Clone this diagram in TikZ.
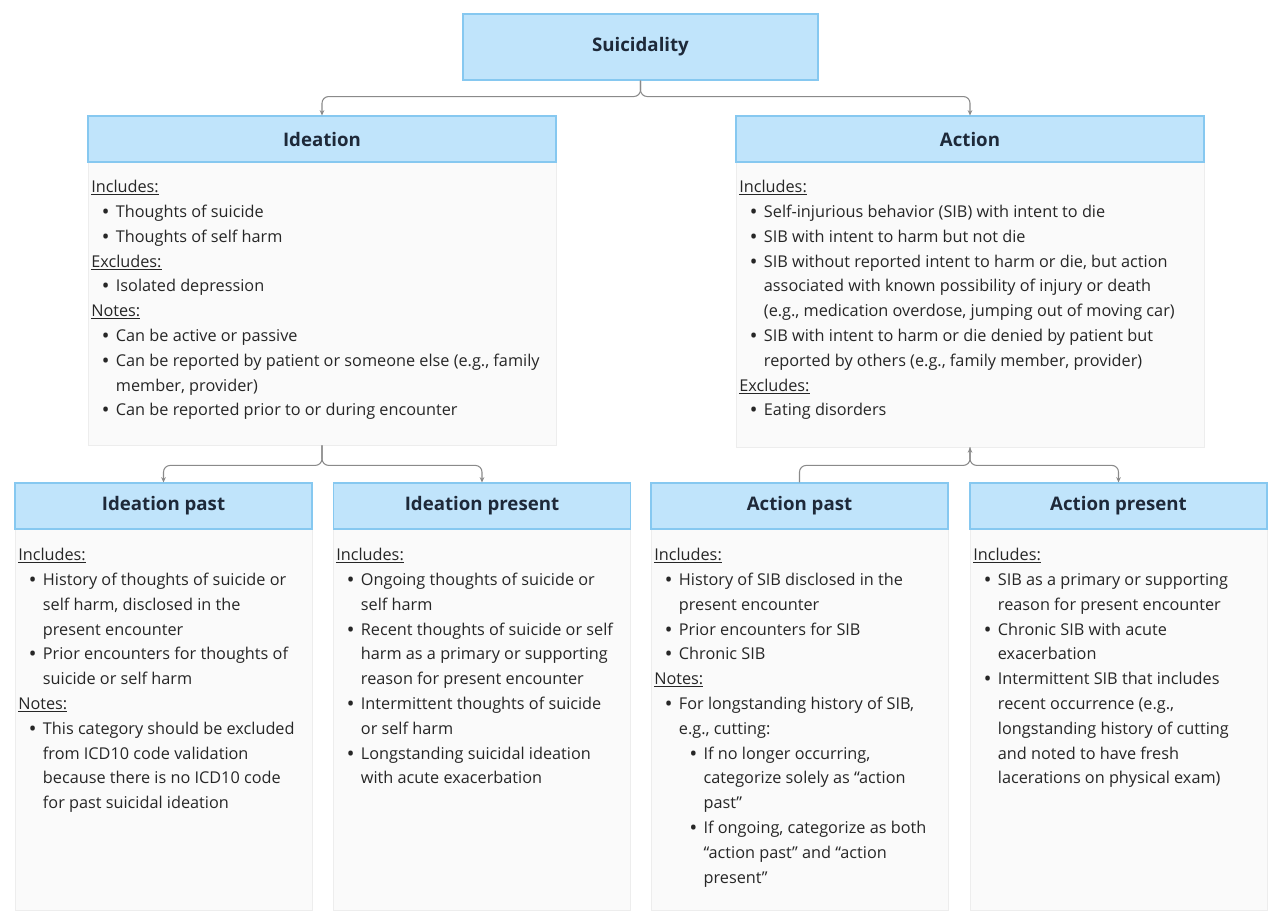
\documentclass[tikz,border=0pt]{standalone}
\usepackage{fontspec}
\setmainfont{Open Sans}
\usetikzlibrary{arrows.meta,positioning}
\definecolor{hdfill}{HTML}{C0E4FB}
\definecolor{hddraw}{HTML}{86C8F0}
\definecolor{pnfill}{HTML}{FAFAFA}
\definecolor{pndraw}{HTML}{EDEDED}
\definecolor{hdtext}{HTML}{1E2939}
\definecolor{bdtext}{HTML}{262626}
\definecolor{conncol}{HTML}{8A8A8A}
% one line of a panel: heading, bullet, wrapped line, sub bullet, wrapped sub line
\newcommand{\hdl}[1]{\underline{#1}\\}
\newcommand{\bul}[1]{\hspace*{8.5pt}\makebox[10pt][l]{\textbf{•}}#1\\}
\newcommand{\cnt}[1]{\hspace*{18.5pt}#1\\}
\newcommand{\sbul}[1]{\hspace*{27pt}\makebox[10pt][l]{\textbf{•}}#1\\}
\newcommand{\scnt}[1]{\hspace*{37pt}#1\\}
\tikzset{
  header/.style={draw=hddraw, fill=hdfill, line width=0.8pt, text=hdtext,
    font=\fontsize{14}{16}\selectfont\bfseries, inner sep=0pt},
  panel/.style={draw=pndraw, fill=pnfill, line width=0.6pt, inner sep=0pt},
  body/.style={anchor=north west, align=left, inner sep=0pt, text=bdtext,
    font=\fontsize{12.2}{18.6}\selectfont},
  conn/.style={draw=conncol, line width=0.8pt, rounded corners=5pt,
    -{Stealth[length=4pt,width=3.5pt]}},
}
\begin{document}
\begin{tikzpicture}[x=0.75pt,y=-0.75pt]
\useasboundingbox (0,0) rectangle (1280,914);

% Drawing top box
\node [header, minimum width=266.25pt, minimum height=49.5pt] (suic) at (640.5,47) {Suicidality};

% Drawing ideation box and its panel
\node [panel, minimum width=351pt, minimum height=212.25pt] (ideabody) at (322,303.5) {};
\node [header, minimum width=351pt, minimum height=34.5pt] (idea) at (322,139) {Ideation};
\node [body] (ideatext) at (91,180) {%
  \hdl{Includes:}
  \bul{Thoughts of suicide}
  \bul{Thoughts of self harm}
  \hdl{Excludes:}
  \bul{Isolated depression}
  \hdl{Notes:}
  \bul{Can be active or passive}
  \bul{Can be reported by patient or someone else (e.g., family}
  \cnt{member, provider)}
  \bul{Can be reported prior to or during encounter}};

% Drawing action box and its panel
\node [panel, minimum width=351pt, minimum height=213.75pt] (actbody) at (970,304.5) {};
\node [header, minimum width=351pt, minimum height=34.5pt] (act) at (970,139) {Action};
\node [body] (acttext) at (739,180) {%
  \hdl{Includes:}
  \bul{Self-injurious behavior (SIB) with intent to die}
  \bul{SIB with intent to harm but not die}
  \bul{SIB without reported intent to harm or die, but action}
  \cnt{associated with known possibility of injury or death}
  \cnt{(e.g., medication overdose, jumping out of moving car)}
  \bul{SIB with intent to harm or die denied by patient but}
  \cnt{reported by others (e.g., family member, provider)}
  \hdl{Excludes:}
  \bul{Eating disorders}};

% Drawing ideation past
\node [panel, minimum width=222.75pt, minimum height=285.75pt] (ipastbody) at (163.5,719.5) {};
\node [header, minimum width=222.75pt, minimum height=34.5pt] (ipast) at (163.5,506) {Ideation past};
\node [body] (ipasttext) at (18,548) {%
  \hdl{Includes:}
  \bul{History of thoughts of suicide or}
  \cnt{self harm, disclosed in the}
  \cnt{present encounter}
  \bul{Prior encounters for thoughts of}
  \cnt{suicide or self harm}
  \hdl{Notes:}
  \bul{This category should be excluded}
  \cnt{from ICD10 code validation}
  \cnt{because there is no ICD10 code}
  \cnt{for past suicidal ideation}};

% Drawing ideation present
\node [panel, minimum width=222.75pt, minimum height=285.75pt] (ipresbody) at (482,719.5) {};
\node [header, minimum width=222.75pt, minimum height=34.5pt] (ipres) at (482,506) {Ideation present};
\node [body] (iprestext) at (336,548) {%
  \hdl{Includes:}
  \bul{Ongoing thoughts of suicide or}
  \cnt{self harm}
  \bul{Recent thoughts of suicide or self}
  \cnt{harm as a primary or supporting}
  \cnt{reason for present encounter}
  \bul{Intermittent thoughts of suicide}
  \cnt{or self harm}
  \bul{Longstanding suicidal ideation}
  \cnt{with acute exacerbation}};

% Drawing action past
\node [panel, minimum width=222.75pt, minimum height=285.75pt] (apastbody) at (799.5,719.5) {};
\node [header, minimum width=222.75pt, minimum height=34.5pt] (apast) at (799.5,506) {Action past};
\node [body] (apasttext) at (654,548) {%
  \hdl{Includes:}
  \bul{History of SIB disclosed in the}
  \cnt{present encounter}
  \bul{Prior encounters for SIB}
  \bul{Chronic SIB}
  \hdl{Notes:}
  \bul{For longstanding history of SIB,}
  \cnt{e.g., cutting:}
  \sbul{If no longer occurring,}
  \scnt{categorize solely as “action}
  \scnt{past”}
  \sbul{If ongoing, categorize as both}
  \scnt{“action past” and “action}
  \scnt{present”}};

% Drawing action present
\node [panel, minimum width=222.75pt, minimum height=285.75pt] (apresbody) at (1118.5,719.5) {};
\node [header, minimum width=222.75pt, minimum height=34.5pt] (apres) at (1118.5,506) {Action present};
\node [body] (aprestext) at (973,548) {%
  \hdl{Includes:}
  \bul{SIB as a primary or supporting}
  \cnt{reason for present encounter}
  \bul{Chronic SIB with acute}
  \cnt{exacerbation}
  \bul{Intermittent SIB that includes}
  \cnt{recent occurrence (e.g.,}
  \cnt{longstanding history of cutting}
  \cnt{and noted to have fresh}
  \cnt{lacerations on physical exam)}};

% Drawing connectors from the top box
\draw [conn] (suic.south) -- ++(0,16) -| (idea.north);
\draw [conn] (suic.south) -- ++(0,16) -| (act.north);

% Drawing connectors below ideation
\draw [conn] (ideabody.south) -- ++(0,20) -| (ipast.north);
\draw [conn] (ideabody.south) -- ++(0,20) -| (ipres.north);

% Drawing connectors below action
\draw [conn, -] (actbody.south) -- ++(0,18) -| (apast.north);
\draw [conn, {Stealth[length=4pt,width=3.5pt]}-{Stealth[length=4pt,width=3.5pt]}] (actbody.south) -- ++(0,18) -| (apres.north);
\end{tikzpicture}
\end{document}
